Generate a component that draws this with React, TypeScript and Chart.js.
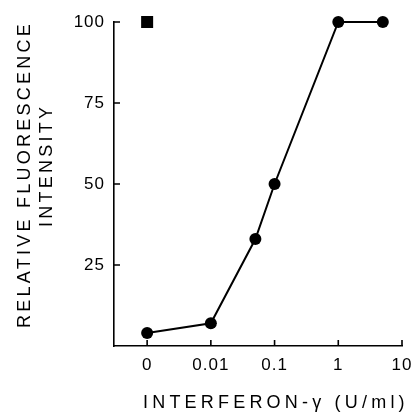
import { useEffect, useRef } from 'react';
import { Chart, registerables } from 'chart.js';

Chart.register(...registerables);

// ---- data ----
const concentrations = [0, 0.01, 0.05, 0.1, 1, 5];
const fluorescence = [4, 7, 33, 50, 100, 100];
const controlConcentrations = [0];
const controlFluorescence = [100];
const xTickValues = [0, 0.01, 0.1, 1, 10];
const xTickLabels = ['0', '0.01', '0.1', '1', '10'];
const yTickValues = [25, 50, 75, 100];
const yTickLabels = ['25', '50', '75', '100'];
const xTitle = 'INTERFERON-γ (U/ml)';
const yTitle = ['RELATIVE FLUORESCENCE', 'INTENSITY'];

// "0" is drawn one decade below 0.01 on the log axis
const ZERO_POS = -3;
const toPos = (c: number) => (c === 0 ? ZERO_POS : Math.log10(c));

const FONT = "'Liberation Sans', Arial, Helvetica, sans-serif";

const inwardTicks = {
  id: 'inwardTicks',
  beforeDraw(chart: any) {
    (chart.ctx as any).letterSpacing = '1px';
  },
  beforeDatasetsDraw(chart: any) {
    const { ctx, chartArea, scales } = chart;
    const x = scales.x;
    const y = scales.y;
    ctx.save();
    ctx.strokeStyle = '#000';
    ctx.lineWidth = 1.6;
    ctx.beginPath();
    xTickValues.forEach((v) => {
      const px = x.getPixelForValue(toPos(v));
      ctx.moveTo(px, chartArea.bottom);
      ctx.lineTo(px, chartArea.bottom - 6);
    });
    yTickValues.forEach((v) => {
      const py = y.getPixelForValue(v);
      ctx.moveTo(chartArea.left, py);
      ctx.lineTo(chartArea.left + 6, py);
    });
    ctx.stroke();
    ctx.restore();
  },
};

const axisTitles = {
  id: 'axisTitles',
  afterDraw(chart: any) {
    const { ctx, chartArea } = chart;
    ctx.save();
    ctx.fillStyle = '#000';
    ctx.font = `18px ${FONT}`;
    ctx.textBaseline = 'middle';
    ctx.textAlign = 'left';
    // x-axis title
    ctx.letterSpacing = '4.2px';
    ctx.fillText(xTitle, chartArea.left + 29, chartArea.bottom + 57.5);
    // y-axis title (two lines, rotated)
    ctx.letterSpacing = '3.25px';
    const starts = [
      [25, chartArea.bottom - 18],
      [46.7, chartArea.bottom - 119],
    ];
    yTitle.forEach((line, i) => {
      ctx.save();
      ctx.translate(starts[i][0], starts[i][1]);
      ctx.rotate(-Math.PI / 2);
      ctx.fillText(line, 0, 0);
      ctx.restore();
    });
    ctx.restore();
    ctx.letterSpacing = '0px';
  },
};

export default function App() {
  const ref = useRef<HTMLCanvasElement>(null);

  useEffect(() => {
    if (!ref.current) return;
    const chart = new Chart(ref.current, {
      type: 'scatter',
      data: {
        datasets: [
          {
            data: concentrations.map((c, i) => ({ x: toPos(c), y: fluorescence[i] })),
            showLine: true,
            borderColor: '#000',
            borderWidth: 2,
            backgroundColor: '#000',
            pointRadius: 6,
            pointBorderWidth: 0,
            pointBackgroundColor: '#000',
            clip: false as any,
          },
          {
            data: controlConcentrations.map((c, i) => ({ x: toPos(c), y: controlFluorescence[i] })),
            showLine: false,
            pointStyle: 'rect',
            pointRadius: 8.5,
            pointBorderWidth: 0,
            pointBackgroundColor: '#000',
            backgroundColor: '#000',
            clip: false as any,
          },
        ],
      },
      options: {
        responsive: false,
        animation: false,
        events: [],
        layout: { padding: { top: 22, right: 11, left: 0, bottom: 0 } },
        plugins: { legend: { display: false }, tooltip: { enabled: false } },
        scales: {
          x: {
            type: 'linear',
            min: -3.52,
            max: 1,
            afterFit: (s: any) => {
              s.height = 66;
              s.paddingLeft = 0;
              s.paddingRight = 0;
            },
            afterBuildTicks: (s: any) => {
              s.ticks = xTickValues.map((v) => ({ value: toPos(v) }));
            },
            ticks: {
              color: '#000',
              font: { family: FONT, size: 17 },
              padding: 9,
              maxRotation: 0,
              autoSkip: false,
              callback: (_v: any, i: number) => xTickLabels[i],
            },
            grid: { drawOnChartArea: false, drawTicks: false },
            border: { color: '#000', width: 1.6 },
            title: { display: false },
          },
          y: {
            type: 'linear',
            min: 0,
            max: 100,
            afterFit: (s: any) => {
              s.width = 114;
              s.paddingTop = 0;
              s.paddingBottom = 0;
            },
            afterBuildTicks: (s: any) => {
              s.ticks = yTickValues.map((v) => ({ value: v }));
            },
            ticks: {
              color: '#000',
              font: { family: FONT, size: 17 },
              padding: 9,
              autoSkip: false,
              callback: (_v: any, i: number) => yTickLabels[i],
            },
            grid: { drawOnChartArea: false, drawTicks: false },
            border: { color: '#000', width: 1.6 },
            title: { display: false },
          },
        },
      },
      plugins: [inwardTicks, axisTitles],
    });
    return () => chart.destroy();
  }, []);

  return (
    <div style={{ position: 'absolute', left: 0, top: 0, width: 413, height: 412, background: '#fff' }}>
      <canvas ref={ref} width={413} height={412} style={{ display: 'block' }} />
    </div>
  );
}
